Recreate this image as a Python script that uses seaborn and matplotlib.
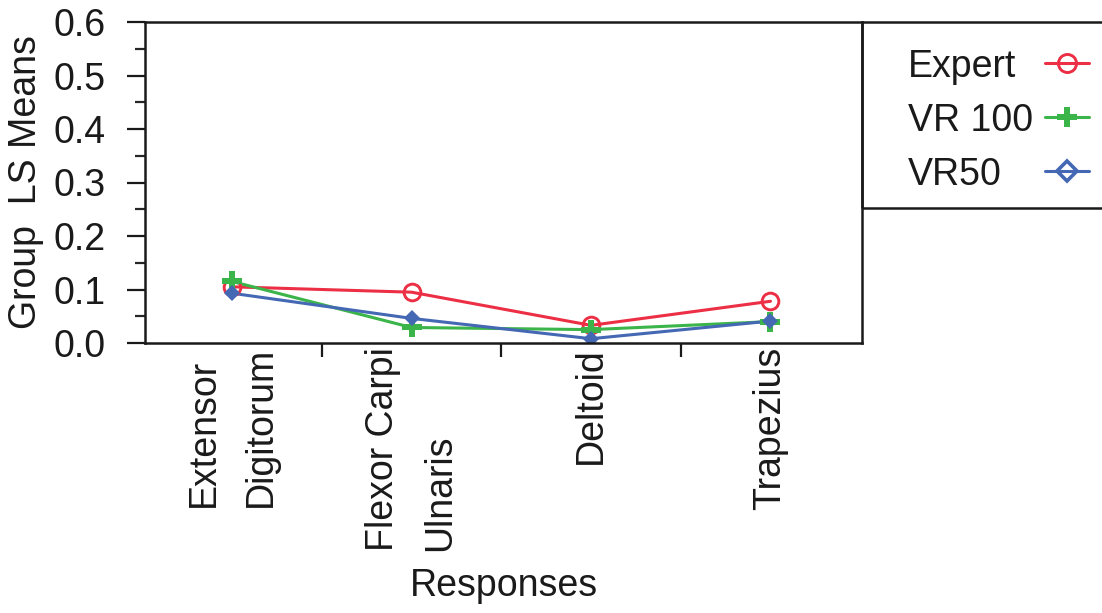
import matplotlib
matplotlib.use("Agg")
import matplotlib.pyplot as plt
from matplotlib.lines import Line2D
from matplotlib.patches import Rectangle
import seaborn as sns
import pandas as pd

# Muscle groups on the x axis
muscles = ["Extensor\nDigitorum", "Flexor Carpi\nUlnaris", "Deltoid", "Trapezius"]

# Least-squares group means per muscle
expert = [0.105, 0.095, 0.033, 0.078]
vr100 = [0.115, 0.029, 0.025, 0.040]
vr50 = [0.093, 0.046, 0.008, 0.041]

groups = ["Expert", "VR 100", "VR50"]
colors = {"Expert": "#EC2F45", "VR 100": "#3BB44A", "VR50": "#4468B4"}

rows = []
for g, vals in zip(groups, [expert, vr100, vr50]):
    for i, v in enumerate(vals):
        rows.append({"Responses": i, "Group": g, "Mean": v})
df = pd.DataFrame(rows)

sns.set_theme(style="ticks")
plt.rcParams["font.family"] = ["Liberation Sans", "DejaVu Sans"]

FS = 27
W, H = 1102, 613

fig = plt.figure(figsize=(W / 100, H / 100), dpi=100)
ax = fig.add_axes([145 / W, 1 - 343 / H, (862 - 145) / W, (343 - 22) / H])

sns.lineplot(data=df, x="Responses", y="Mean", hue="Group", palette=colors,
             estimator=None, linewidth=2.2, ax=ax, legend=False, sort=False)

# markers per group
marker_style = {
    "Expert": dict(marker="o", markersize=12, markerfacecolor="none", markeredgewidth=2.1),
    "VR 100": dict(marker="P", markersize=14, markeredgewidth=0),
    "VR50": dict(marker="D", markersize=8.5, markeredgewidth=0),
}
for g in groups:
    sub = df[df["Group"] == g]
    ax.plot(sub["Responses"], sub["Mean"], linestyle="none",
            color=colors[g], **marker_style[g])

ax.set_xlim(-0.485, 3.51)
ax.set_ylim(0, 0.6)

ax.set_yticks([0, 0.1, 0.2, 0.3, 0.4, 0.5, 0.6])
ax.set_yticklabels(["0.0", "0.1", "0.2", "0.3", "0.4", "0.5", "0.6"])
ax.set_yticks([0.05, 0.15, 0.25, 0.35, 0.45, 0.55], minor=True)
ax.tick_params(axis="y", which="major", length=13, width=1.6, labelsize=FS,
               pad=15, colors="#1a1a1a")
ax.tick_params(axis="y", which="minor", length=7, width=1.6)

# separators between categories, labels centred on categories
ax.set_xticks([0.5, 1.5, 2.5])
ax.set_xticklabels([])
ax.tick_params(axis="x", which="major", length=10, width=1.6, colors="#1a1a1a")
ax.set_xticks([0, 1, 2, 3], minor=True)
ax.set_xticklabels(muscles, minor=True, rotation=90, fontsize=FS,
                   va="top", ha="center", multialignment="left", linespacing=1.75)
ax.tick_params(axis="x", which="minor", length=0, pad=3, labelcolor="#1a1a1a")

for s in ax.spines.values():
    s.set_linewidth(1.8)
    s.set_color("#1a1a1a")

ax.set_ylabel("Group  LS Means", fontsize=FS, color="#1a1a1a")
ax.yaxis.set_label_coords(-0.141, 0.5)
ax.set_xlabel("Responses", fontsize=FS, color="#1a1a1a")
ax.xaxis.set_label_coords(0.5, -0.70)

# legend: names on the left, line+marker samples on the right, in an open-ended box
legend_rows = [63, 117, 171]
legend_marker = {
    "Expert": dict(marker="o", markersize=13, markerfacecolor="none", markeredgewidth=2.1),
    "VR 100": dict(marker="P", markersize=15, markeredgewidth=0),
    "VR50": dict(marker="D", markersize=10, markerfacecolor="none", markeredgewidth=2.6),
}
for g, yp in zip(groups, legend_rows):
    yf = 1 - yp / H
    fig.text(908 / W, yf, g, fontsize=FS, ha="left", va="center_baseline",
             color="#1a1a1a")
    fig.add_artist(Line2D([1045 / W, 1089 / W], [yf, yf], transform=fig.transFigure,
                          color=colors[g], linewidth=2.2))
    fig.add_artist(Line2D([1067 / W], [yf], transform=fig.transFigure,
                          color=colors[g], linestyle="none", **legend_marker[g]))
fig.add_artist(Rectangle((862 / W, 1 - 208 / H), 0.3, (208 - 22) / H,
                         transform=fig.transFigure, fill=False,
                         edgecolor="#1a1a1a", linewidth=1.8))

fig.savefig("out.png", dpi=100)
